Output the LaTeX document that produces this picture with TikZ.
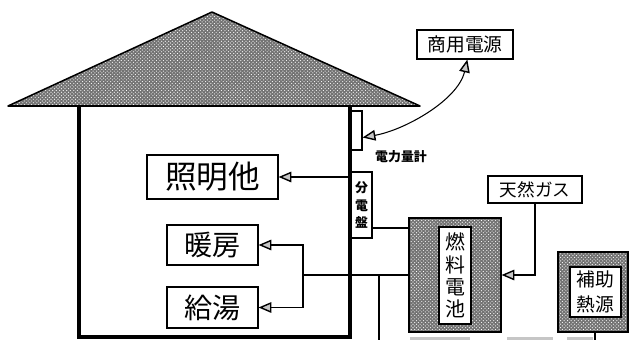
\documentclass[tikz,border=0pt]{standalone}
\usepackage{fontspec}
\newfontfamily\jp{Noto Sans CJK JP}
\usetikzlibrary{arrows.meta,patterns}
\def\pxu{0.03cm}
\newcommand\jpsize[2]{\fontsize{#1}{#2}\selectfont\jp}

\begin{document}
\begin{tikzpicture}[x=0.03cm,y=-0.03cm,
  box/.style={draw,line width=0.9pt,inner sep=0pt,align=center},
  hatch/.style={preaction={fill=black!55},pattern=crosshatch dots,pattern color=white},
  wire/.style={line width=0.9pt},
  tip/.style={-{Triangle[length=11pt,width=9pt,fill=gray!45,line width=1.2pt]}},
  wall/.style={line width=2.6pt}]
\useasboundingbox (0,0) rectangle (629,340);

% loads inside the house
\node[box,minimum width=131*\pxu,minimum height=44*\pxu,font=\jpsize{27}{27}] (light) at (212.5,177) {照明他};
\node[box,minimum width=91*\pxu,minimum height=40*\pxu,font=\jpsize{24}{24}] (heat) at (212.5,245) {暖房};
\node[box,minimum width=91*\pxu,minimum height=41*\pxu,font=\jpsize{24}{24}] (water) at (212.5,307.5) {給湯};

% meter and distribution panel on the wall
\node[box,minimum width=11*\pxu,minimum height=39*\pxu] (meter) at (356.5,130.5) {};
\node[font=\jpsize{11}{11}\bfseries] (meterlabel) at (401,157) {電力量計};
\node[box,minimum width=21*\pxu,minimum height=66*\pxu,font=\jpsize{11}{15}\bfseries] (panel) at (361.5,205) {分\\電\\盤};

% supplies
\node[box,minimum width=96*\pxu,minimum height=29*\pxu,font=\jpsize{16}{16}] (grid) at (465,44.5) {商用電源};
\node[box,minimum width=94*\pxu,minimum height=27*\pxu,font=\jpsize{15}{15}] (gas) at (535,189.5) {天然ガス};

% fuel cell and auxiliary heater
\node[box,hatch,minimum width=92*\pxu,minimum height=114*\pxu] (fc) at (455,275) {};
\node[box,fill=white,minimum width=32*\pxu,minimum height=97*\pxu,font=\jpsize{17}{19}] (fcin) at (455,275.5) {燃\\料\\電\\池};
\node[box,hatch,minimum width=70*\pxu,minimum height=80*\pxu] (aux) at (593,292) {};
\node[box,fill=white,minimum width=51*\pxu,minimum height=50*\pxu,font=\jpsize{16}{21}] (auxin) at (595.5,292) {補助\\熱源};

% wiring and piping
\draw[wire,tip] (panel.west |- light.east) -- (light.east);
\coordinate (pout) at (372,228);
\draw[wire] (pout) -- (pout -| fc.west);
\coordinate (hj) at (303,275);
\draw[wire] (fc.west |- hj) -- (hj);
\draw[wire,tip] (hj) |- (heat.east);
\draw[wire,tip] (hj) |- (water.east);
\coordinate (drop1) at (379,340);
\draw[wire] (drop1 |- hj) -- (drop1);
\draw[wire,tip] (gas.south) |- (fc.east);
\coordinate (drop2) at (595,340);
\draw[wire] (aux.south -| drop2) -- (drop2);
\draw[wire,{Triangle[length=11pt,width=9pt,fill=gray!45,line width=1.2pt]}-{Triangle[length=11pt,width=9pt,fill=gray!45,line width=1.2pt]}]
  ([yshift=-6pt]meter.east) .. controls (405,130) and (458,100) .. ([xshift=2pt]grid.south);

% lower edges of further units
\fill[gray!45] (410,337) rectangle (470,340);
\fill[gray!45] (507,337) rectangle (553,340);
\fill[gray!45] (567,337) rectangle (593,340);

% house walls and roof
\draw[wall] (79,106) -- (79,337) -- (350,337) -- (350,106);
\draw[hatch,line width=1.3pt,line join=round] (8,106) -- (212,12) -- (420,106) -- cycle;
\end{tikzpicture}
\end{document}
